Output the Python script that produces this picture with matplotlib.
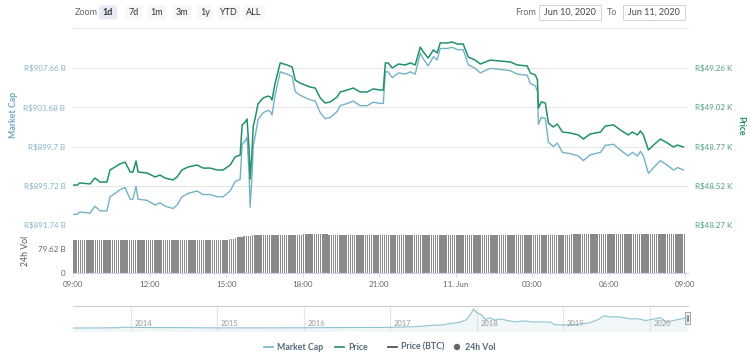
import numpy as np
import matplotlib
matplotlib.use("Agg")
import matplotlib.pyplot as plt
from matplotlib.patches import Rectangle, FancyBboxPatch, Circle
from matplotlib.lines import Line2D

plt.rcParams['font.family'] = ['Lato', 'DejaVu Sans']

# ---------------- data ----------------
hours = [0.00, 0.16, 0.27, 0.67, 0.86, 1.06, 1.33, 1.45, 1.65, 1.84,
         2.04, 2.24, 2.35, 2.47, 2.55, 2.90, 3.22, 3.41, 3.61, 3.92,
         4.08, 4.27, 4.51, 4.86, 5.10, 5.37, 5.65, 5.88, 6.16, 6.35,
         6.55, 6.63, 6.75, 6.82, 6.90, 6.94, 7.02, 7.06, 7.14, 7.25,
         7.45, 7.65, 7.73, 7.80, 7.92, 8.12, 8.39, 8.59, 8.71, 8.90,
         9.29, 9.49, 9.69, 9.88, 10.08, 10.35, 10.47, 10.75, 10.98, 11.25,
         11.53, 11.76, 12.04, 12.16, 12.24, 12.35, 12.51, 12.75, 13.02, 13.22,
         13.41, 13.61, 13.73, 13.92, 14.12, 14.27, 14.39, 14.67, 14.86, 15.06,
         15.29, 15.49, 15.76, 15.96, 16.35, 16.75, 17.14, 17.41, 17.80, 17.92,
         18.12, 18.20, 18.24, 18.35, 18.51, 18.63, 18.82, 18.98, 19.18, 19.49,
         19.80, 20.00, 20.27, 20.67, 20.86, 21.18, 21.45, 21.76, 21.92, 22.12,
         22.24, 22.35, 22.55, 22.75, 23.02, 23.29, 23.53, 23.69, 23.92]

price_k = [48.522, 48.522, 48.535, 48.529, 48.566, 48.541, 48.541, 48.617, 48.636, 48.655,
           48.667, 48.604, 48.604, 48.674, 48.604, 48.598, 48.573, 48.585, 48.566, 48.554,
           48.573, 48.617, 48.636, 48.648, 48.629, 48.629, 48.617, 48.617, 48.648, 48.699,
           48.711, 48.901, 48.920, 48.938, 48.743, 48.560, 48.743, 48.888, 48.945, 49.033,
           49.071, 49.083, 49.077, 49.058, 49.165, 49.292, 49.279, 49.266, 49.184, 49.165,
           49.140, 49.134, 49.071, 49.039, 49.046, 49.077, 49.109, 49.121, 49.134, 49.109,
           49.109, 49.128, 49.121, 49.121, 49.292, 49.292, 49.260, 49.285, 49.279, 49.292,
           49.279, 49.392, 49.361, 49.323, 49.374, 49.355, 49.418, 49.418, 49.424, 49.411,
           49.411, 49.329, 49.310, 49.285, 49.310, 49.304, 49.298, 49.279, 49.273, 49.229,
           49.216, 49.184, 49.008, 49.046, 49.039, 48.913, 48.888, 48.907, 48.856, 48.850,
           48.838, 48.812, 48.844, 48.856, 48.894, 48.901, 48.869, 48.838, 48.856, 48.838,
           48.863, 48.838, 48.743, 48.774, 48.812, 48.787, 48.762, 48.774, 48.762]

mcap_b = [892.82, 892.82, 893.06, 892.94, 893.65, 893.17, 893.17, 894.60, 894.95, 895.31,
          895.54, 894.36, 894.36, 895.66, 894.36, 894.24, 893.77, 894.00, 893.65, 893.41,
          893.77, 894.60, 894.95, 895.19, 894.83, 894.83, 894.60, 894.60, 895.19, 896.14,
          896.37, 899.93, 900.28, 900.64, 896.97, 893.53, 896.97, 899.69, 900.76, 902.42,
          903.13, 903.36, 903.25, 902.89, 904.90, 907.27, 907.04, 906.80, 905.26, 904.90,
          904.43, 904.31, 903.13, 902.53, 902.65, 903.25, 903.84, 904.07, 904.31, 903.84,
          903.84, 904.19, 904.07, 904.07, 907.27, 907.27, 906.68, 907.16, 907.04, 907.27,
          907.04, 909.17, 908.58, 907.87, 908.81, 908.46, 909.64, 909.64, 909.76, 909.52,
          909.52, 907.98, 907.63, 907.16, 907.63, 907.51, 907.39, 907.04, 906.92, 906.09,
          905.85, 905.26, 901.94, 902.65, 902.53, 900.16, 899.69, 900.05, 899.10, 898.98,
          898.74, 898.27, 898.86, 899.10, 899.81, 899.93, 899.34, 898.74, 899.10, 898.74,
          899.22, 898.74, 896.97, 897.56, 898.27, 897.80, 897.32, 897.56, 897.32]

# 24h volume (billions), 5-minute bars given as runs of equal bars
vol_levels = [109.5, 111.0, 109.8,
              110.5, 111.5, 112.5, 114.0, 116.0, 118.0, 119.5, 121.0, 122.0, 123.0, 123.5, 124.0,
              125.0, 127.0, 128.5, 127.0, 126.5, 129.5, 128.5, 129.5]
vol_runs = [45, 9, 18,
            1, 1, 1, 1, 1, 1, 1, 1, 1, 1, 1, 1,
            12, 12, 12, 108, 6, 36, 6, 12]

mcap_ticks = [891.74, 895.72, 899.70, 903.68, 907.66]
mcap_labels = ["R$891.74 B", "R$895.72 B", "R$899.7 B", "R$903.68 B", "R$907.66 B"]
price_labels = ["R$48.27 K", "R$48.52 K", "R$48.77 K", "R$49.02 K", "R$49.26 K"]
price_lo, price_hi = 48.27, 49.26
vol_ticks = [0, 79.62]
vol_labels = ["0", "79.62 B"]
x_ticks = [0, 3, 6, 9, 12, 15, 18, 21, 24]
x_labels = ["09:00", "12:00", "15:00", "18:00", "21:00", "11. Jun", "03:00", "06:00", "09:00"]

nav_years = [2013.33, 2013.6, 2013.85, 2013.92, 2014.0, 2014.2, 2014.5, 2014.8, 2015.0, 2015.5,
             2016.0, 2016.5, 2016.9, 2017.1, 2017.3, 2017.45, 2017.6, 2017.7, 2017.8, 2017.88,
             2017.93, 2017.96, 2018.0, 2018.05, 2018.1, 2018.15, 2018.2, 2018.28, 2018.35, 2018.45,
             2018.55, 2018.65, 2018.75, 2018.85, 2018.9, 2019.0, 2019.15, 2019.3, 2019.4, 2019.47,
             2019.55, 2019.62, 2019.7, 2019.78, 2019.85, 2019.95, 2020.05, 2020.12, 2020.2, 2020.25,
             2020.32, 2020.38, 2020.44]
nav_vals = [1.0, 1.2, 2.5, 5.5, 4.5, 3.5, 3.0, 2.2, 1.6, 1.5,
            2.2, 3.5, 4.0, 5.5, 8, 14, 17, 25, 30, 45,
            75, 100, 80, 70, 45, 55, 42, 48, 40, 33,
            38, 32, 33, 32, 18, 17, 19, 28, 45, 65,
            58, 60, 55, 48, 50, 40, 48, 55, 30, 38,
            45, 50, 58]
nav_year_ticks = [2014, 2015, 2016, 2017, 2018, 2019, 2020]

# ---------------- style ----------------
C_MCAP = '#74b2c6'
C_PRICE = '#23906c'
C_GRID = '#e6e6e6'
C_LAB_L = '#86b3c7'
C_LAB_R = '#4f9f86'
C_TXT = '#666666'

W, H = 750, 356
fig = plt.figure(figsize=(7.5, 3.56), dpi=100)

def rect(x0, y0, x1, y1):
    return [x0 / W, 1 - y1 / H, (x1 - x0) / W, (y1 - y0) / H]

ov = fig.add_axes([0, 0, 1, 1])
ov.set_xlim(0, W)
ov.set_ylim(H, 0)
ov.axis('off')

# ---- range selector ----
ov.text(75, 12.5, "Zoom", fontsize=6.5, color=C_TXT, va='center', ha='left')
buttons = [("1d", 108, 18), ("7d", 134, 17), ("1m", 157, 18), ("3m", 182, 18),
           ("1y", 205, 16), ("YTD", 229, 22), ("ALL", 254, 22)]
for i, (lab, cx, bw) in enumerate(buttons):
    sel = (i == 0)
    ov.add_patch(FancyBboxPatch((cx - bw / 2, 5.5), bw, 14, boxstyle="round,pad=0,rounding_size=2",
                                fc='#e6ebf5' if sel else '#f7f7f7', ec='none'))
    ov.text(cx, 12.5, lab, fontsize=6.5, color='#333333', ha='center', va='center',
            fontweight='bold' if sel else 'normal')

ov.text(536, 12.5, "From", fontsize=6.5, color=C_TXT, ha='right', va='center')
ov.add_patch(Rectangle((539, 5), 62, 15, fc='white', ec='#cccccc', lw=0.6))
ov.text(570, 12.5, "Jun 10, 2020", fontsize=6.5, color='#444444', ha='center', va='center')
ov.text(612, 12.5, "To", fontsize=6.5, color=C_TXT, ha='center', va='center')
ov.add_patch(Rectangle((623, 5), 62, 15, fc='white', ec='#cccccc', lw=0.6))
ov.text(654, 12.5, "Jun 11, 2020", fontsize=6.5, color='#444444', ha='center', va='center')
ov.add_line(Line2D([73, 688], [28, 28], color=C_GRID, lw=0.8))

# ---- main pane ----
ax = fig.add_axes(rect(73, 40, 688, 225))
ax.set_facecolor('none')
mc_per_px = (mcap_ticks[-1] - mcap_ticks[0]) / 157.0
ax.set_ylim(mcap_ticks[0], mcap_ticks[0] + 185 * mc_per_px)
ax.set_xlim(0, 24.1)
ax.plot(hours, mcap_b, color=C_MCAP, lw=1.0, zorder=3)
ax.set_yticks(mcap_ticks)
ax.set_yticklabels(mcap_labels)
ax.tick_params(axis='y', length=0, pad=5.5, labelsize=5.8, labelcolor=C_LAB_L)
ax.set_xticks([])
for s in ax.spines.values():
    s.set_visible(False)
ax.grid(axis='y', color=C_GRID, lw=0.8)
ax.set_axisbelow(True)

ax2 = ax.twinx()
p_per_px = (price_hi - price_lo) / 157.0
ax2.set_ylim(price_lo, price_lo + 185 * p_per_px)
ax2.plot(hours, price_k, color=C_PRICE, lw=1.1, zorder=4)
ax2.set_yticks(np.linspace(price_lo, price_hi, 5))
ax2.set_yticklabels(price_labels)
ax2.tick_params(axis='y', length=0, pad=5, labelsize=5.8, labelcolor=C_LAB_R)
for s in ax2.spines.values():
    s.set_visible(False)

ov.text(14, 115, "Market Cap", rotation=90, fontsize=6.3, color='#6ea8c2', ha='center', va='center',
        fontweight='bold')
ov.text(741, 126, "Price", rotation=270, fontsize=6.3, color=C_PRICE, ha='center', va='center',
        fontweight='bold')

# ---- volume pane ----
axv = fig.add_axes(rect(73, 225, 688, 273))
axv.set_facecolor('none')
vol = np.repeat(vol_levels, vol_runs)
vol_x = np.arange(len(vol)) * 5 / 60.0 + 0.04
axv.bar(vol_x, vol, width=0.058, color='#8a8a8a', linewidth=0)
axv.set_xlim(0, 24.1)
axv.set_ylim(0, 159.24)
axv.set_yticks(vol_ticks)
axv.set_yticklabels(vol_labels)
axv.tick_params(axis='y', length=0, pad=5.5, labelsize=5.8, labelcolor=C_TXT)
axv.set_xticks(x_ticks)
axv.set_xticklabels(x_labels)
axv.tick_params(axis='x', length=3, width=0.6, color='#ccd6eb', pad=2.5, labelsize=5.8, labelcolor=C_TXT)
for k, s in axv.spines.items():
    s.set_visible(k == 'bottom')
axv.spines['bottom'].set_color('#ccd6eb')
axv.spines['bottom'].set_linewidth(0.8)
ov.text(25, 251, "24h Vol", rotation=90, fontsize=6.3, color='#555555', ha='center', va='center')

# ---- navigator ----
axn = fig.add_axes(rect(73, 306, 688, 331))
axn.set_facecolor('none')
axn.plot(nav_years, nav_vals, color='#8cc3d3', lw=0.8)
axn.fill_between(nav_years, nav_vals, -20, color='#8cc3d3', alpha=0.12, lw=0)
axn.set_xlim(nav_years[0], nav_years[-1])
axn.set_ylim(-14.6, 115.6)
for yr in nav_year_ticks:
    axn.axvline(yr, color=C_GRID, lw=0.8, zorder=0)
    axn.text(yr + 0.04, 0.32, str(yr), transform=axn.get_xaxis_transform(), fontsize=5.5,
             color='#999999', ha='left', va='center')
axn.set_xticks([])
axn.set_yticks([])
for k, s in axn.spines.items():
    s.set_visible(k == 'top')
axn.spines['top'].set_color('#cccccc')
axn.spines['top'].set_linewidth(0.8)
ov.add_patch(Rectangle((685, 312), 5, 12, fc='#f2f2f2', ec='#999999', lw=0.6, zorder=5))
ov.add_line(Line2D([687, 687], [315, 321], color='#333333', lw=0.4, zorder=6))
ov.add_line(Line2D([688.3, 688.3], [315, 321], color='#333333', lw=0.4, zorder=6))

# ---- legend ----
LEG = '#56687c'
ov.add_line(Line2D([264, 273], [347, 347], color=C_MCAP, lw=1.2))
ov.text(277, 347, "Market Cap", fontsize=6.3, color=LEG, fontweight='bold', va='center')
ov.add_line(Line2D([335, 344], [347, 347], color=C_PRICE, lw=1.2))
ov.text(348, 347, "Price", fontsize=6.3, color=LEG, fontweight='bold', va='center')
ov.add_line(Line2D([388, 397], [347, 347], color='#434348', lw=1.2))
ov.text(401, 347, "Price (BTC)", fontsize=6.3, color=LEG, fontweight='bold', va='center')
ov.add_patch(Circle((457, 347), 3.2, fc='#666666', ec='none'))
ov.text(465, 347, "24h Vol", fontsize=6.3, color=LEG, fontweight='bold', va='center')

fig.savefig("out.png", dpi=100)
